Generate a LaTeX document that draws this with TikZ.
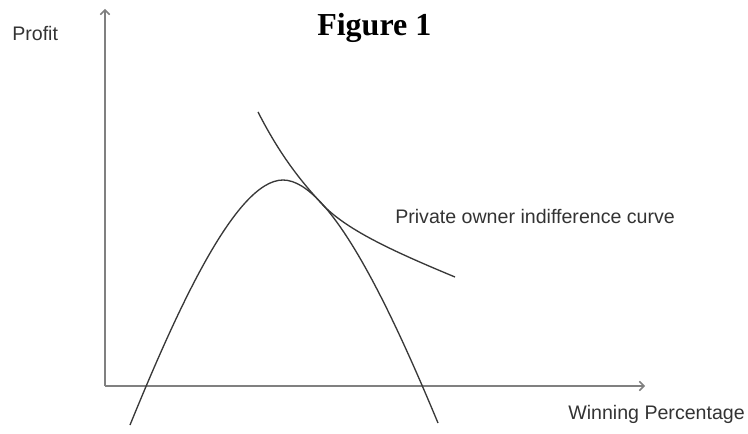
\documentclass[tikz,border=0pt]{standalone}
\usepackage{fontspec}
\setmainfont{Liberation Sans}
\newfontfamily\titlefont{Liberation Serif}
\usetikzlibrary{arrows.meta}
\begin{document}
\begin{tikzpicture}[x=0.75pt,y=-0.75pt,>={Straight Barb[length=3.5pt,width=7pt]},
        axe/.style={draw=black!50,line width=1.1pt},
        courbe/.style={draw=black!78,line width=1pt},
        lbl/.style={inner sep=0pt,anchor=base west,text=black!80,font=\fontsize{14.7}{17}\selectfont}]
        \useasboundingbox (0,0) rectangle (748,434);
        \coordinate (O) at (105,386);
        \coordinate (Ytop) at (105,9);
        \coordinate (Xend) at (645,386);
        %axes
        \draw [axe,->] (O) -- (Ytop);
        \draw [axe,->] (O) -- (Xend);
        %profit curve
        \draw [courbe] (130,425) .. controls (175,315) and (235,180) .. (283,180)
            .. controls (331,180) and (393,315) .. (438,423);
        %indifference curve
        \draw [courbe] (258,112) .. controls (280,155) and (300,180) .. (321,203)
            .. controls (345,229) and (390,250) .. (455,277);
        %labels
        \node [lbl] (profit) at (12,41) {Profit};
        \node [lbl] (winpct) at (568,419) {Winning Percentage};
        \node [lbl] (indiff) at (395,224) {Private owner indifference curve};
        \node [inner sep=0pt,anchor=base west,font=\titlefont\bfseries\fontsize{24}{28}\selectfont] (title) at (317,36) {Figure 1};
    \end{tikzpicture}
\end{document}
